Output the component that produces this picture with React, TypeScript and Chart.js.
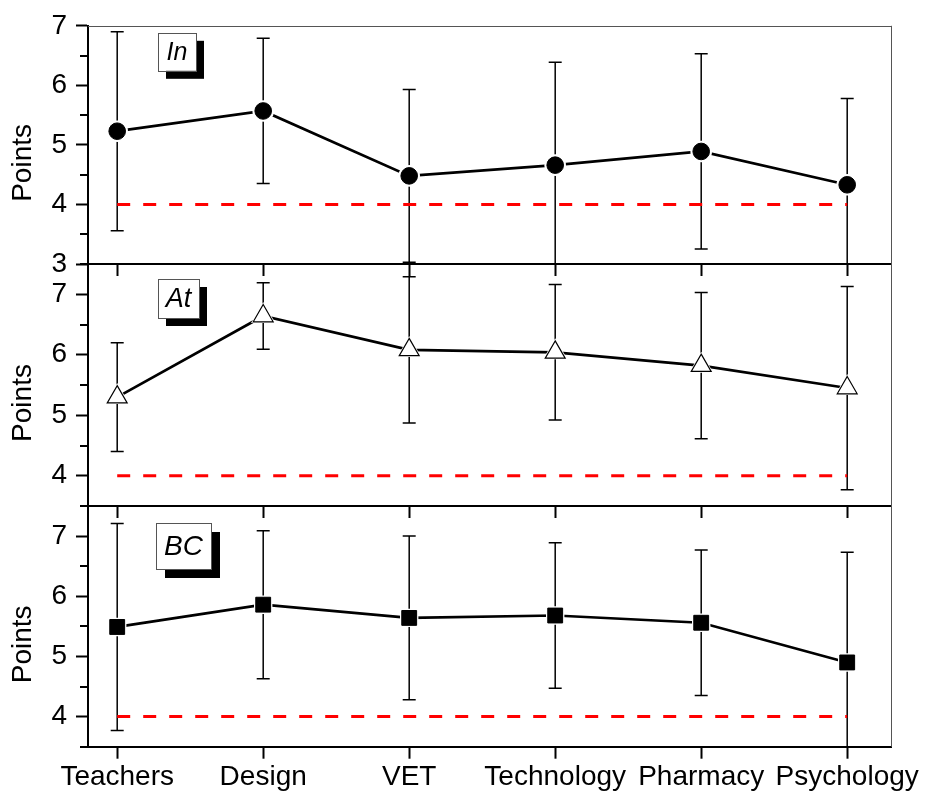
import React, { useEffect, useRef } from 'react';
import { Chart, registerables } from 'chart.js';

Chart.register(...registerables);

// ---------- data ----------
const categories = ['Teachers', 'Design', 'VET', 'Technology', 'Pharmacy', 'Psychology'];
const xTickValues = [0, 1, 2, 3, 4, 5];

const inMeans = [5.23, 5.57, 4.48, 4.66, 4.89, 4.33];
const inErrors = [1.67, 1.22, 1.45, 1.73, 1.64, 1.45];

const atMeans = [5.3, 6.64, 6.08, 6.04, 5.82, 5.45];
const atErrors = [0.9, 0.55, 1.21, 1.12, 1.21, 1.68];

const bcMeans = [5.49, 5.86, 5.64, 5.68, 5.56, 4.9];
const bcErrors = [1.72, 1.23, 1.36, 1.21, 1.21, 1.83];

const thresholdValue = 4;

const inYTicks = [3, 3.5, 4, 4.5, 5, 5.5, 6, 6.5, 7];
const atYTicks = [3.5, 4, 4.5, 5, 5.5, 6, 6.5, 7, 7.5];
const bcYTicks = [3.5, 4, 4.5, 5, 5.5, 6, 6.5, 7, 7.5];

const yTitle = 'Points';

// ---------- styling / layout ----------
const W = 925;
const H = 797;
const FONT = '"Liberation Sans", Arial, Helvetica, sans-serif';
const FS = 28;

type PanelCfg = {
  name: string;
  means: number[];
  errors: number[];
  yTicks: number[];
  top: number;
  bottom: number;
  xAxisHeight: number;
  showXLabels: boolean;
  drawTopBorder: boolean;
  pointStyle: 'circle' | 'triangle' | 'rect';
  radius: number;
  fill: string;
  pointBorderWidth: number;
  label: string;
  labelFont: number;
  box: { dx: number; dy: number; w: number; h: number; shadow: number };
};

const panels: PanelCfg[] = [
  {
    name: 'In', means: inMeans, errors: inErrors, yTicks: inYTicks,
    top: 23.5, bottom: 264, xAxisHeight: 20, showXLabels: false, drawTopBorder: true,
    pointStyle: 'circle', radius: 8.3, fill: '#000', pointBorderWidth: 1,
    label: 'In', labelFont: 25, box: { dx: 70, dy: 7, w: 38, h: 38, shadow: 8 },
  },
  {
    name: 'At', means: atMeans, errors: atErrors, yTicks: atYTicks,
    top: 264, bottom: 506, xAxisHeight: 20, showXLabels: false, drawTopBorder: false,
    pointStyle: 'triangle', radius: 11.5, fill: '#fff', pointBorderWidth: 1.2,
    label: 'At', labelFont: 27, box: { dx: 70, dy: 15, w: 41, h: 39, shadow: 8 },
  },
  {
    name: 'BC', means: bcMeans, errors: bcErrors, yTicks: bcYTicks,
    top: 506, bottom: 746.7, xAxisHeight: 50.3, showXLabels: true, drawTopBorder: false,
    pointStyle: 'rect', radius: 10.5, fill: '#000', pointBorderWidth: 1,
    label: 'BC', labelFont: 28, box: { dx: 68, dy: 17, w: 55, h: 46, shadow: 9 },
  },
];

function makeConfig(p: PanelCfg): any {
  const pts = p.means.map((m, i) => ({ x: xTickValues[i], y: m }));
  const thr = [
    { x: xTickValues[0], y: thresholdValue },
    { x: xTickValues[xTickValues.length - 1], y: thresholdValue },
  ];
  const yMin = p.yTicks[0];
  const yMax = p.yTicks[p.yTicks.length - 1];

  const panelPlugin = {
    id: 'panel_' + p.name,
    beforeDatasetsDraw(chart: any) {
      const { ctx, chartArea, scales } = chart;
      const x = scales.x;
      const y = scales.y;
      ctx.save();
      ctx.beginPath();
      ctx.rect(chartArea.left, chartArea.top, chartArea.right - chartArea.left, chartArea.bottom - chartArea.top);
      ctx.clip();
      ctx.strokeStyle = '#000';
      ctx.lineWidth = 1.5;
      p.means.forEach((m, i) => {
        const px = x.getPixelForValue(xTickValues[i]);
        const t = y.getPixelForValue(m + p.errors[i]);
        const b = y.getPixelForValue(m - p.errors[i]);
        ctx.beginPath();
        ctx.moveTo(px, t);
        ctx.lineTo(px, b);
        ctx.moveTo(px - 6.5, t);
        ctx.lineTo(px + 6.5, t);
        ctx.moveTo(px - 6.5, b);
        ctx.lineTo(px + 6.5, b);
        ctx.stroke();
      });
      ctx.restore();
    },
    afterDraw(chart: any) {
      const { ctx, chartArea, scales } = chart;
      const y = scales.y;
      ctx.save();
      // frame (thin grey right / top)
      ctx.strokeStyle = '#555';
      ctx.lineWidth = 1;
      ctx.beginPath();
      ctx.moveTo(Math.round(chartArea.right) + 0.5, chartArea.top);
      ctx.lineTo(Math.round(chartArea.right) + 0.5, chartArea.bottom);
      if (p.drawTopBorder) {
        ctx.moveTo(chartArea.left, Math.round(chartArea.top) + 0.5);
        ctx.lineTo(chartArea.right + 1, Math.round(chartArea.top) + 0.5);
      }
      ctx.stroke();
      // minor ticks
      ctx.strokeStyle = '#000';
      ctx.lineWidth = 2;
      ctx.beginPath();
      y.ticks.forEach((t: any) => {
        if (!Number.isInteger(t.value)) {
          const py = Math.round(y.getPixelForValue(t.value));
          ctx.moveTo(chartArea.left - 8, py);
          ctx.lineTo(chartArea.left, py);
        }
      });
      ctx.stroke();
      // y title
      ctx.fillStyle = '#000';
      ctx.font = `${FS}px ${FONT}`;
      ctx.textAlign = 'center';
      ctx.textBaseline = 'middle';
      ctx.translate(23, (chartArea.top + chartArea.bottom) / 2 + 18);
      ctx.rotate(-Math.PI / 2);
      ctx.fillText(yTitle, 0, 0);
      ctx.restore();
      // label box with shadow
      ctx.save();
      const bx = chartArea.left + p.box.dx;
      const by = chartArea.top + p.box.dy;
      ctx.fillStyle = '#000';
      ctx.fillRect(bx + p.box.shadow, by + p.box.shadow, p.box.w, p.box.h);
      ctx.fillStyle = '#fff';
      ctx.fillRect(bx, by, p.box.w, p.box.h);
      ctx.strokeStyle = '#555';
      ctx.lineWidth = 1;
      ctx.strokeRect(Math.round(bx) + 0.5, Math.round(by) + 0.5, p.box.w, p.box.h);
      ctx.fillStyle = '#000';
      ctx.font = `italic ${p.labelFont}px ${FONT}`;
      ctx.textAlign = 'center';
      ctx.textBaseline = 'middle';
      ctx.fillText(p.label, bx + p.box.w / 2, by + p.box.h / 2 + 1);
      ctx.restore();
    },
  };

  return {
    type: 'line',
    data: {
      datasets: [
        {
          data: pts,
          showLine: false,
          pointStyle: p.pointStyle,
          pointRadius: p.radius,
          pointBackgroundColor: p.fill,
          pointBorderColor: '#000',
          pointBorderWidth: p.pointBorderWidth,
        },
        {
          data: pts,
          showLine: false,
          pointStyle: p.pointStyle,
          pointRadius: p.radius + 2.5,
          pointBackgroundColor: '#fff',
          pointBorderColor: '#fff',
          pointBorderWidth: 0,
        },
        {
          data: pts,
          showLine: true,
          borderColor: '#000',
          borderWidth: 2.7,
          pointRadius: 0,
          tension: 0,
        },
        {
          data: thr,
          showLine: true,
          borderColor: '#ff0000',
          borderWidth: 3,
          borderDash: [13, 13],
          pointRadius: 0,
        },
      ],
    },
    options: {
      animation: false,
      responsive: false,
      devicePixelRatio: 1,
      events: [],
      layout: {
        padding: { left: 0, right: W - 891, top: p.top, bottom: H - p.bottom - p.xAxisHeight },
      },
      plugins: { legend: { display: false }, tooltip: { enabled: false } },
      scales: {
        x: {
          type: 'linear',
          min: -0.2,
          max: 5.3,
          bounds: 'data',
          afterBuildTicks: (s: any) => {
            s.ticks = xTickValues.map((v) => ({ value: v }));
          },
          afterFit: (s: any) => {
            s.height = p.xAxisHeight;
          },
          ticks: {
            display: p.showXLabels,
            autoSkip: false,
            maxRotation: 0,
            minRotation: 0,
            padding: 2,
            color: '#000',
            font: { family: FONT, size: FS },
            callback: (v: any) => categories[xTickValues.indexOf(Number(v))] ?? '',
          },
          grid: {
            display: true,
            drawOnChartArea: false,
            drawTicks: true,
            tickLength: 12,
            tickWidth: 2,
            tickColor: '#000',
          },
          border: { display: true, color: '#000', width: 2 },
        },
        y: {
          type: 'linear',
          min: yMin,
          max: yMax,
          afterBuildTicks: (s: any) => {
            s.ticks = p.yTicks.map((v) => ({ value: v }));
          },
          afterFit: (s: any) => {
            s.width = 88;
          },
          ticks: {
            autoSkip: false,
            padding: 9,
            color: '#000',
            font: { family: FONT, size: FS },
            callback: (v: any) => (Number.isInteger(Number(v)) ? String(v) : ''),
          },
          grid: {
            display: true,
            drawOnChartArea: false,
            drawTicks: true,
            tickLength: 12,
            tickWidth: 2,
            tickColor: (c: any) => (c.tick && Number.isInteger(c.tick.value) ? '#000' : 'rgba(0,0,0,0)'),
          },
          border: { display: true, color: '#000', width: 2 },
        },
      },
    },
    plugins: [panelPlugin],
  };
}

function PanelCanvas({ cfg }: { cfg: PanelCfg }) {
  const ref = useRef<HTMLCanvasElement | null>(null);
  useEffect(() => {
    if (!ref.current) return;
    const chart = new Chart(ref.current, makeConfig(cfg));
    return () => chart.destroy();
  }, [cfg]);
  return (
    <canvas
      ref={ref}
      width={W}
      height={H}
      style={{ position: 'absolute', left: 0, top: 0, width: W, height: H }}
    />
  );
}

export default function App() {
  return (
    <div style={{ position: 'absolute', left: 0, top: 0, width: W, height: H, background: '#fff' }}>
      {panels.map((p) => (
        <PanelCanvas key={p.name} cfg={p} />
      ))}
    </div>
  );
}
